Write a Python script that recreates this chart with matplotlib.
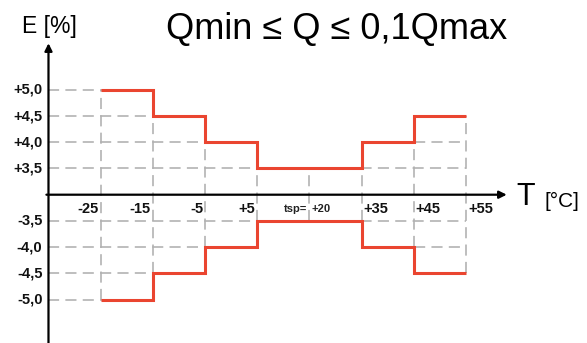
import numpy as np
import matplotlib
matplotlib.use("Agg")
import matplotlib.pyplot as plt
from matplotlib.transforms import offset_copy

plt.rcParams['font.family'] = ['Liberation Sans', 'DejaVu Sans']
plt.rcParams['lines.scale_dashes'] = False

# ---- data ----
temp_labels = ['-25', '-15', '-5', '+5', '+20', '+35', '+45', '+55']
upper_err = [5.0, 4.5, 4.0, 3.5, 3.5, 4.0, 4.5]      # between consecutive temperatures
lower_err = [-5.0, -4.5, -4.0, -3.5, -3.5, -4.0, -4.5]
err_levels = [5.0, 4.5, 4.0, 3.5, -3.5, -4.0, -4.5, -5.0]
err_labels = ['+5,0', '+4,5', '+4,0', '+3,5', '-3,5', '-4,0', '-4,5', '-5,0']
title = 'Qmin \u2264 Q \u2264 0,1Qmax'

RED = '#ea4530'
GREY = '#b0b0b0'

fig = plt.figure(figsize=(5.87, 3.43), dpi=100)
ax = fig.add_axes([0, 0, 1, 1])
ax.set_axis_off()

# broken-like y scale: 0..3.5 compressed to one step, 0.5 per step above
xp = [-10, -3.5, 0, 3.5, 10]
fp = [-14, -1, 0, 1, 14]
fwd = lambda v: np.interp(v, xp, fp)
inv = lambda v: np.interp(v, fp, xp)
ax.set_yscale('function', functions=(fwd, inv))

edges = np.arange(len(temp_labels))
ax.set_xlim(-1.929, 9.318)
ax.set_ylim(inv(-5.66), inv(7.431))

x_axis = -1.0
upper = np.array(upper_err)
lower = np.array(lower_err)

dash = (0, (8.0, 4.5))
# horizontal dashed guide lines
for lev in err_levels:
    if lev > 0:
        mask = np.concatenate([[True], upper >= lev])
    else:
        mask = np.concatenate([[True], lower <= lev])
    starts = np.concatenate([[x_axis], edges[:-1].astype(float)])
    ends = edges.astype(float)
    i = 0
    n = len(mask)
    while i < n:
        if mask[i]:
            j = i
            while j + 1 < n and mask[j + 1]:
                j += 1
            ax.plot([starts[i], ends[j]], [lev, lev], color=GREY, lw=1.15,
                    linestyle=dash, zorder=1)
            i = j + 1
        else:
            i += 1

# vertical dashed guide lines
for k in edges:
    adj_u = [upper[m] for m in (k - 1, k) if 0 <= m < len(upper)]
    adj_l = [lower[m] for m in (k - 1, k) if 0 <= m < len(lower)]
    ax.plot([k, k], [max(adj_l), min(adj_u)], color=GREY, lw=1.15,
            linestyle=dash, zorder=1)

# red step limits
ax.stairs(upper, edges, baseline=None, color=RED, lw=2.2, zorder=3)
ax.stairs(lower, edges, baseline=None, color=RED, lw=2.2, zorder=3)

# axes with arrows
ax.annotate('', xy=(7.78, 0), xytext=(-1.04, 0),
            arrowprops=dict(arrowstyle='-|>', lw=1.6, color='black',
                            mutation_scale=11, shrinkA=0, shrinkB=0), zorder=4)
ax.annotate('', xy=(x_axis, 5.89), xytext=(x_axis, -7.5),
            arrowprops=dict(arrowstyle='-|>', lw=1.6, color='black',
                            mutation_scale=11, shrinkA=0, shrinkB=0), zorder=4)

# y tick labels
tr_y = offset_copy(ax.transData, fig=fig, x=-6, y=0, units='dots')
for lev, lab in zip(err_levels, err_labels):
    ax.text(x_axis, lev, lab, transform=tr_y, ha='right', va='center',
            fontsize=10.5, fontweight='bold', color='#111111')

# x tick labels
tr_left = offset_copy(ax.transData, fig=fig, x=-2, y=-14, units='dots')
tr_right = offset_copy(ax.transData, fig=fig, x=2, y=-14, units='dots')
for k, lab in zip(edges, temp_labels):
    if k < 4:
        ax.text(k, 0, lab, transform=tr_left, ha='right', va='center',
                fontsize=10.5, fontweight='bold', color='#111111')
    elif k == 4:
        ax.text(k, 0, lab, transform=tr_right, ha='left', va='center',
                fontsize=8, fontweight='bold', color='#222222')
        ax.text(k, 0, 'tsp=', transform=tr_left, ha='right', va='center',
                fontsize=8, fontweight='bold', color='#222222')
    else:
        ax.text(k, 0, lab, transform=tr_right, ha='left', va='center',
                fontsize=10.5, fontweight='bold', color='#111111')

# titles / axis names
fig.text(337 / 587, 1 - 30 / 343, title, ha='center', va='center', fontsize=26)
fig.text(49 / 587, 1 - 27 / 343, 'E [%]', ha='center', va='center', fontsize=16.5)
fig.text(516 / 587, 1 - 205 / 343, 'T', ha='left', va='baseline', fontsize=22)
fig.text(545 / 587, 1 - 207 / 343, '[\u00b0C]', ha='left', va='baseline', fontsize=15)

fig.savefig('out.png', dpi=100)
